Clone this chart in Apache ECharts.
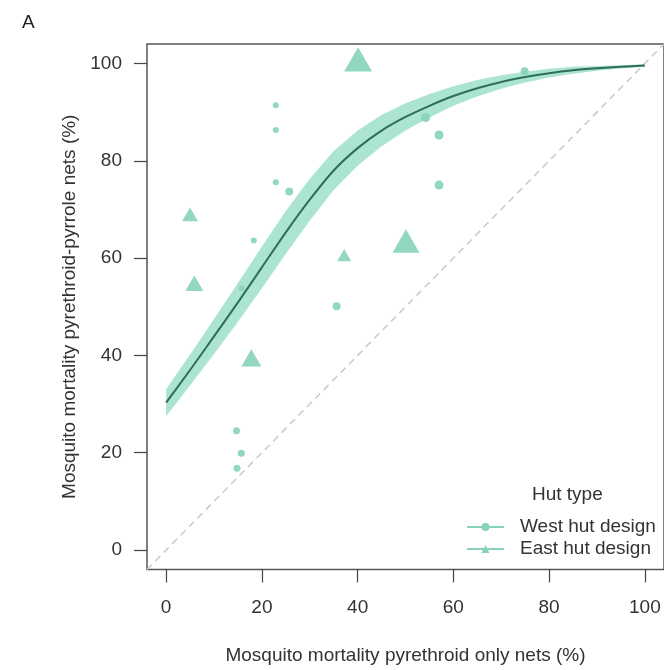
<!DOCTYPE html>
<html>
<head>
<meta charset="utf-8">
<script src="https://cdn.jsdelivr.net/npm/echarts@6/dist/echarts.min.js"></script>
<style>html,body{margin:0;padding:0;background:#fff;}#c{width:664px;height:670px;}</style>
</head>
<body>
<div id="c"></div>
<script>
// ---- data ----
const xTicks = [0, 20, 40, 60, 80, 100];
const yTicks = [0, 20, 40, 60, 80, 100];

const curveX = [0, 5, 10, 15, 20, 25, 30, 35, 40, 45, 50, 55, 60, 65, 70, 75, 80, 85, 90, 95, 100];
const curveY = [30.3, 37.0, 43.9, 50.9, 58.1, 65.3, 72.0, 78.0, 82.6, 86.2, 89.0, 91.3, 93.3, 94.9, 96.2, 97.2, 98.0, 98.6, 99.0, 99.3, 99.6];
const bandLow = [27.5, 33.8, 40.3, 46.9, 53.8, 60.9, 67.7, 74.0, 79.0, 83.0, 86.2, 88.9, 91.3, 93.2, 94.8, 96.1, 97.1, 97.9, 98.5, 98.95, 99.35];
const bandHigh = [33.1, 40.2, 47.5, 54.9, 62.4, 69.7, 76.3, 82.0, 86.2, 89.4, 91.8, 93.7, 95.3, 96.6, 97.6, 98.3, 98.9, 99.3, 99.5, 99.65, 99.85];

const diagX = [-4, 104];
const diagY = [-4, 104];

const westX = [22.9, 22.9, 22.9, 25.7, 18.3, 15.8, 35.6, 14.7, 15.7, 14.8, 57.0, 57.0, 54.2, 74.9];
const westY = [91.4, 86.3, 75.6, 73.7, 63.6, 53.8, 50.1, 24.5, 19.9, 16.8, 85.3, 75.0, 88.9, 98.4];
const westWeight = [6, 6, 6, 8, 6, 6, 8, 7, 7, 7, 9, 9, 9, 8];

const eastX = [40.1, 50.1, 17.8, 5.0, 5.9, 37.2];
const eastY = [100.0, 62.7, 38.9, 68.5, 54.3, 60.2];
const eastWeight = [28, 27, 20, 16, 18, 14];

const seriesNames = ['West hut design', 'East hut design'];

// ---- chart ----
const mint = '#86d3b8';
const font = 'Liberation Sans, Arial, sans-serif';
const chart = echarts.init(document.getElementById('c'), null, {renderer: 'canvas'});

function makeAxis(ticks, extra) {
  return Object.assign({
    type: 'value', min: -4, max: 104,
    splitLine: {show: false},
    axisLine: {show: false, onZero: false},
    axisTick: {show: true, inside: false, length: 13, customValues: ticks, lineStyle: {color: '#444', width: 1.2}},
    nameLocation: 'middle',
    nameTextStyle: {fontFamily: font, fontSize: 19, color: '#333', verticalAlign: 'middle'}
  }, extra);
}

const option = {
  animation: false,
  backgroundColor: '#fff',
  title: [
    {text: 'A', left: 17, top: 8, textStyle: {fontFamily: font, fontSize: 19, fontWeight: 'normal', color: '#222'}},
    {text: 'Hut type', left: 527, top: 480, textStyle: {fontFamily: font, fontSize: 19, fontWeight: 'normal', color: '#333'}}
  ],
  grid: {left: 147, top: 44, width: 523, height: 527, show: true, borderColor: '#555', borderWidth: 1.5, backgroundColor: 'transparent'},
  xAxis: makeAxis(xTicks, {
    name: 'Mosquito mortality pyrethroid only nets (%)', nameGap: 86,
    axisLabel: {customValues: xTicks, margin: 29, fontFamily: font, fontSize: 19, color: '#333'}
  }),
  yAxis: makeAxis(yTicks, {
    name: 'Mosquito mortality pyrethroid-pyrrole nets (%)', nameGap: 77,
    axisLabel: {customValues: yTicks, margin: 25, fontFamily: font, fontSize: 19, color: '#333'}
  }),
  legend: {
    orient: 'vertical', left: 466, top: 516, padding: 0, itemGap: 0,
    itemWidth: 37, itemHeight: 10,
    data: seriesNames,
    textStyle: {fontFamily: font, fontSize: 19, color: '#333', lineHeight: 22, padding: [0, 0, 0, 11]}
  },
  series: [
    {
      type: 'custom', name: 'band', silent: true, z: 1,
      data: curveX.map((x, i) => [x, bandLow[i], bandHigh[i]]),
      encode: {x: 0, y: [1, 2]},
      renderItem: function (params, api) {
        if (params.dataIndex !== 0) return null;
        const pts = [];
        for (let i = 0; i < curveX.length; i++) pts.push(api.coord([curveX[i], bandHigh[i]]));
        for (let i = curveX.length - 1; i >= 0; i--) pts.push(api.coord([curveX[i], bandLow[i]]));
        return {type: 'polygon', shape: {points: pts}, style: {fill: '#a6e4cf', opacity: 0.95}};
      }
    },
    {
      type: 'line', name: 'diag', silent: true, z: 2, showSymbol: false,
      data: diagX.map((x, i) => [x, diagY[i]]),
      lineStyle: {color: '#c9c9c9', width: 1.5, type: [7, 5]}
    },
    {
      type: 'line', name: 'fit', silent: true, z: 3, showSymbol: false, smooth: 0.3,
      data: curveX.map((x, i) => [x, curveY[i]]),
      lineStyle: {color: '#2f6d59', width: 2}
    },
    {
      type: 'scatter', name: 'west-points', z: 4, symbol: 'circle',
      data: westX.map((x, i) => ({value: [x, westY[i]], symbolSize: westWeight[i]})),
      itemStyle: {color: mint, opacity: 0.9}
    },
    {
      type: 'scatter', name: 'east-points', z: 4, symbol: 'triangle',
      data: eastX.map((x, i) => {
        const w = eastWeight[i], h = w * 0.866;
        return {value: [x, eastY[i]], symbolSize: [w, h], symbolOffset: [0, -h / 6]};
      }),
      itemStyle: {color: mint, opacity: 0.9}
    },
    {
      type: 'line', name: seriesNames[0], data: [], symbol: 'circle', symbolSize: 7,
      itemStyle: {color: mint}, lineStyle: {color: mint, width: 1.5}
    },
    {
      type: 'line', name: seriesNames[1], data: [], symbol: 'triangle', symbolSize: 8,
      itemStyle: {color: mint}, lineStyle: {color: mint, width: 1.5}
    }
  ]
};
chart.setOption(option);
</script>
</body>
</html>
